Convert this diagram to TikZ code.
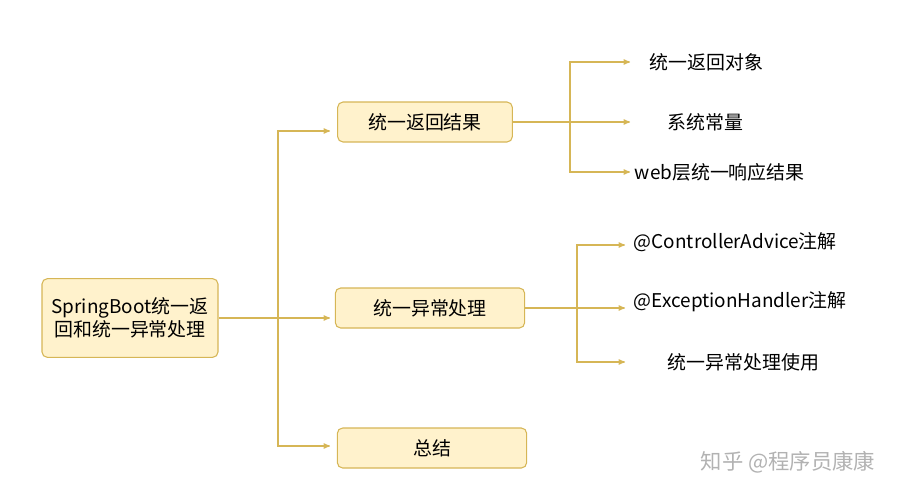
\documentclass[tikz,border=0pt]{standalone}
\usepackage{fontspec}
\setmainfont{Noto Sans CJK SC}
\usetikzlibrary{arrows}
\definecolor{boxfill}{HTML}{FFF2CC}
\definecolor{boxline}{HTML}{D6B656}

\begin{document}
\begin{tikzpicture}[x=0.75pt,y=-0.75pt,->,>=stealth',thick,draw=boxline,
                    font=\fontsize{14.2}{17}\selectfont,
                    topic/.style={draw=boxline,fill=boxfill,rounded corners=4pt,thick,
                                  minimum height=30pt,align=center,inner sep=2pt},
                    leaf/.style={anchor=west,inner sep=1pt}]

 \useasboundingbox (0,0) rectangle (920,500);

 \node[topic,minimum width=132pt,minimum height=59pt](R) at (130,318) {SpringBoot统一返\\回和统一异常处理};
 \node[topic,minimum width=131pt](A) at (425,122) {统一返回结果};
 \node[topic,minimum width=142pt](B) at (430,308) {统一异常处理};
 \node[topic,minimum width=142pt](C) at (432,448) {总结};

 \coordinate (T) at (278,318);
 \draw (R.east) -- (T) -- (330,318);
 \draw (T) |- (330,131);
 \draw (T) |- (330,446);

 \node[leaf](A1) at (648,62)  {统一返回对象};
 \node[leaf](A2) at (666,122) {系统常量};
 \node[leaf](A3) at (633,172) {web层统一响应结果};
 \node[leaf](B1) at (632,242) {@ControllerAdvice注解};
 \node[leaf](B2) at (632,302) {@ExceptionHandler注解};
 \node[leaf](B3) at (666,362) {统一异常处理使用};

 \coordinate (AJ) at (570,122);
 \draw (A.east) -- (AJ) -- (630,122);
 \draw (AJ) |- (630,62);
 \draw (AJ) |- (630,172);

 \coordinate (BJ) at (577,308);
 \draw (B.east) -- (BJ) -- (625,308);
 \draw (BJ) |- (625,245);
 \draw (BJ) |- (625,362);

 \node[anchor=center,text=gray!60,font=\fontsize{16}{18}\selectfont](W) at (788,462) {知乎 @程序员康康};

\end{tikzpicture}
\end{document}
